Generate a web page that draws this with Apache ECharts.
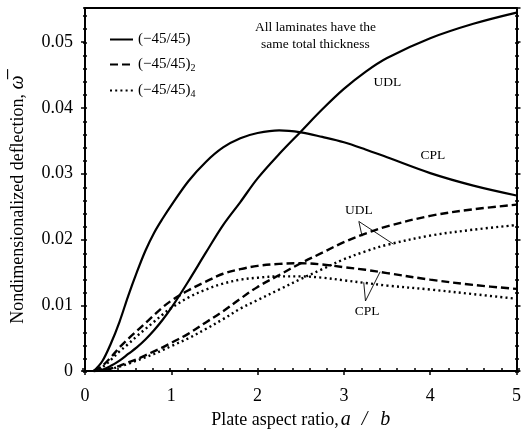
<!DOCTYPE html>
<html>
<head>
<meta charset="utf-8">
<script src="https://cdn.jsdelivr.net/npm/echarts@6/dist/echarts.min.js"></script>
<style>
  html, body { margin: 0; padding: 0; background: #fff; }
  #chart { width: 524px; height: 435px; }
</style>
</head>
<body>
<div id="chart"></div>
<script>
// Plate aspect ratio a/b (shared abscissa for every curve)
const aspectRatio = [0.1, 0.2, 0.3, 0.4, 0.5, 0.6, 0.7, 0.8, 0.9, 1.0, 1.2, 1.4, 1.6, 1.8, 2.0, 2.25, 2.5, 2.75, 3.0, 3.25, 3.5, 4.0, 4.5, 5.0];

// (-45/45) laminate
const udl1 = [0, 0.0002, 0.0008, 0.0016, 0.0026, 0.0036, 0.0048, 0.0062, 0.0078, 0.0096, 0.0137, 0.0180, 0.0222, 0.0257, 0.0293, 0.0330, 0.0364, 0.0398, 0.0429, 0.0455, 0.0476, 0.0506, 0.0528, 0.0545];
const cpl1 = [0, 0.0015, 0.0042, 0.0075, 0.0114, 0.0150, 0.0183, 0.0210, 0.0232, 0.0252, 0.0289, 0.0318, 0.0340, 0.0354, 0.0362, 0.0366, 0.0363, 0.0356, 0.0348, 0.0337, 0.0325, 0.0301, 0.0282, 0.0267];
// (-45/45)_2 laminate
const udl2 = [0, 0.0001, 0.0004, 0.0008, 0.0013, 0.0018, 0.0024, 0.0030, 0.0036, 0.0043, 0.0057, 0.0074, 0.0091, 0.0110, 0.0128, 0.0146, 0.0164, 0.0180, 0.0196, 0.0209, 0.0220, 0.0236, 0.0246, 0.0253];
const cpl2 = [0, 0.0008, 0.0021, 0.0036, 0.0049, 0.0061, 0.0073, 0.0085, 0.0097, 0.0107, 0.0123, 0.0136, 0.0148, 0.0155, 0.0160, 0.0163, 0.0164, 0.0162, 0.0158, 0.0154, 0.0149, 0.0139, 0.0131, 0.0125];
// (-45/45)_4 laminate
const udl4 = [0, 0.0001, 0.0003, 0.0007, 0.0011, 0.0016, 0.0021, 0.0026, 0.0032, 0.0038, 0.0050, 0.0064, 0.0079, 0.0095, 0.0108, 0.0124, 0.0140, 0.0155, 0.0170, 0.0182, 0.0192, 0.0206, 0.0215, 0.0222];
const cpl4 = [0, 0.0006, 0.0017, 0.0030, 0.0041, 0.0053, 0.0064, 0.0075, 0.0086, 0.0096, 0.0112, 0.0124, 0.0133, 0.0139, 0.0142, 0.0144, 0.0144, 0.0142, 0.0138, 0.0134, 0.0130, 0.0124, 0.0117, 0.0110];

const laminateNames = ['(−45/45)', '(−45/45)₂', '(−45/45)₄'];
const xTickLabels = ['0', '1', '2', '3', '4', '5'];
const yTickLabels = ['0', '0.01', '0.02', '0.03', '0.04', '0.05'];

// Callout leader lines (end on curve -> label apex -> end on curve), in data units
const udlCallout = [[3.211, 0.0205], [3.173, 0.02275], [3.574, 0.0193]];
const cplCallout = [[3.23, 0.0135], [3.25, 0.01066], [3.42, 0.0151]];

const FONT = '"Liberation Serif", "Times New Roman", serif';
const chart = echarts.init(document.getElementById('chart'), null, { renderer: 'canvas' });

const grid = { left: 83, right: 5, top: 8, bottom: 63 };
const pts = ys => aspectRatio.map((x, i) => [x, ys[i]]);

const solid = { color: '#000', width: 2.2, type: 'solid' };
const dashed = { color: '#000', width: 2.4, type: [8, 4] };
const dotted = { color: '#000', width: 2.4, type: [2, 3.2] };

function curve(name, ys, style) {
  return {
    type: 'line', name: name, xAxisIndex: 0, yAxisIndex: 0,
    data: pts(ys), showSymbol: false, symbol: 'none',
    smooth: 0.35,
    lineStyle: style, itemStyle: { color: '#000' }, silent: true, z: 3
  };
}
function leader(coords) {
  return {
    type: 'line', xAxisIndex: 0, yAxisIndex: 0, data: coords, symbol: 'none',
    lineStyle: { color: '#000', width: 0.9 }, silent: true, z: 4
  };
}

const tickLabel = (list, step) => ({
  color: '#000', fontFamily: FONT, fontSize: 18,
  formatter: v => { const i = Math.round(v / step); return Math.abs(v - i * step) < 1e-9 ? (list[i] ?? '') : ''; }
});

const axisLine = { show: true, onZero: false, lineStyle: { color: '#000', width: 2 } };
const noLine = { show: false };

chart.setOption({
  animation: false,
  backgroundColor: '#fff',
  grid: [Object.assign({}, grid), Object.assign({}, grid)],
  legend: {
    data: laminateNames,
    orient: 'vertical', left: 109, top: 32, padding: 0,
    itemWidth: 23, itemHeight: 14, itemGap: 10,
    selectedMode: false,
    itemStyle: { opacity: 0 },
    textStyle: {
      color: '#000', fontFamily: FONT, fontSize: 15,
      rich: { sub: { fontFamily: FONT, fontSize: 10, color: '#000', verticalAlign: 'bottom', padding: [7, 0, 0, 0] } }
    },
    formatter: n => n.replace('₂', '{sub|2}').replace('₄', '{sub|4}')
  },
  xAxis: [
    { // labelled bottom axis, major ticks outside
      type: 'value', gridIndex: 0, position: 'bottom', min: 0, max: 5, interval: 1,
      axisLine: axisLine, splitLine: { show: false },
      axisTick: { show: true, inside: false, length: 4, lineStyle: { color: '#000', width: 1.5 } },
      axisLabel: Object.assign(tickLabel(xTickLabels, 1), { margin: 16 }),
      name: 'Plate aspect ratio,{it|a}{sl|/}{it|b}', nameLocation: 'middle', nameGap: 32,
      nameTextStyle: {
        color: '#000', fontFamily: FONT, fontSize: 18,
        rich: {
          it: { fontFamily: FONT, fontSize: 20, fontStyle: 'italic', color: '#000', verticalAlign: 'bottom', padding: [0, 0, 0, 2] },
          sl: { fontFamily: FONT, fontSize: 20, fontStyle: 'italic', color: '#000', verticalAlign: 'bottom', padding: [0, 11, 0, 11] }
        }
      }
    },
    { // top frame edge
      type: 'value', gridIndex: 0, position: 'top', min: 0, max: 5, interval: 1,
      axisLine: axisLine, axisTick: { show: false }, axisLabel: { show: false }, splitLine: { show: false }
    },
    { // inner ticks every 0.2 along the bottom
      type: 'value', gridIndex: 1, position: 'bottom', min: 0, max: 5, interval: 0.2,
      axisLine: noLine, splitLine: { show: false }, axisLabel: { show: false },
      axisTick: { show: true, inside: true, length: 4, lineStyle: { color: '#000', width: 1.5 } }
    }
  ],
  yAxis: [
    { // labelled left axis, major ticks outside
      type: 'value', gridIndex: 0, position: 'left', min: 0, max: 0.0552, interval: 0.01,
      axisLine: axisLine, splitLine: { show: false },
      axisTick: { show: true, inside: false, length: 4, lineStyle: { color: '#000', width: 1.5 } },
      axisLabel: Object.assign(tickLabel(yTickLabels, 0.01), { margin: 12, showMaxLabel: false }),
      name: 'Nondimensionalized deflection, {w|ω\u0305}', nameLocation: 'middle', nameGap: 57,
      nameTextStyle: {
        color: '#000', fontFamily: FONT, fontSize: 18, padding: [0, 20, 0, 0],
        rich: { w: { fontFamily: FONT, fontSize: 20, fontStyle: 'italic', color: '#000' } }
      }
    },
    { // right frame edge, major ticks outside
      type: 'value', gridIndex: 0, position: 'right', min: 0, max: 0.0552, interval: 0.01,
      axisLine: axisLine, splitLine: { show: false }, axisLabel: { show: false },
      axisTick: { show: true, inside: false, length: 4, lineStyle: { color: '#000', width: 1.5 } }
    },
    { // inner ticks every 0.002 on the left
      type: 'value', gridIndex: 1, position: 'left', min: 0, max: 0.0552, interval: 0.002,
      axisLine: noLine, splitLine: { show: false }, axisLabel: { show: false },
      axisTick: { show: true, inside: true, length: 4, lineStyle: { color: '#000', width: 1.5 } }
    },
    { // inner ticks every 0.002 on the right
      type: 'value', gridIndex: 1, position: 'right', min: 0, max: 0.0552, interval: 0.002,
      axisLine: noLine, splitLine: { show: false }, axisLabel: { show: false },
      axisTick: { show: true, inside: true, length: 4, lineStyle: { color: '#000', width: 1.5 } }
    }
  ],
  series: [
    curve(laminateNames[0], udl1, solid),
    curve(laminateNames[0], cpl1, solid),
    curve(laminateNames[1], udl2, dashed),
    curve(laminateNames[1], cpl2, dashed),
    curve(laminateNames[2], udl4, dotted),
    curve(laminateNames[2], cpl4, dotted),
    leader(udlCallout),
    leader(cplCallout)
  ]
});

// Text annotations anchored in data coordinates
const notes = [
  { at: [2.67, 0.0523], text: 'All laminates have the' },
  { at: [2.67, 0.0496], text: 'same total thickness' },
  { at: [3.505, 0.0439], text: 'UDL' },
  { at: [4.03, 0.0328], text: 'CPL' },
  { at: [3.173, 0.0244], text: 'UDL' },
  { at: [3.27, 0.0090], text: 'CPL' }
];
chart.setOption({
  graphic: notes.map(n => {
    const p = chart.convertToPixel({ gridIndex: 0 }, n.at);
    return {
      type: 'text', x: p[0], y: p[1], silent: true, z: 10,
      style: { text: n.text, fill: '#000', font: '13.5px ' + FONT, align: 'center', verticalAlign: 'middle' }
    };
  })
});
</script>
</body>
</html>
